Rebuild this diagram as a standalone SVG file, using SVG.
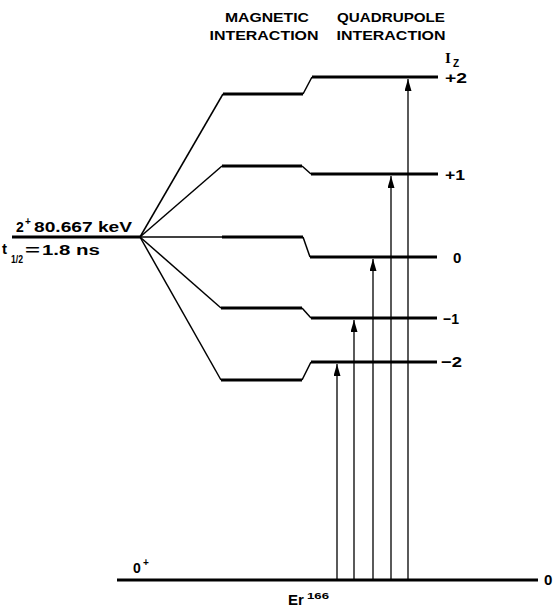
<svg xmlns="http://www.w3.org/2000/svg" width="554" height="607" viewBox="0 0 554 607">
<style>
.t{font-family:"Liberation Sans",Arial,sans-serif;font-weight:bold;fill:#000}
.s{font-family:"Liberation Serif","Times New Roman",serif;font-weight:bold;fill:#000}
.lvl{stroke:#000;stroke-width:3;fill:none;stroke-linecap:butt}
.fan{stroke:#000;stroke-width:1.5;fill:none}
.arr{stroke:#000;stroke-width:1.3;fill:none}
</style>
<defs>
<marker id="ah" viewBox="0 -3.5 12 7" refX="12" refY="0" markerWidth="12" markerHeight="7" markerUnits="userSpaceOnUse" orient="auto">
<path d="M0,-3.5 L12,0 L0,3.5 Z" fill="#000"/>
</marker>
</defs>
<rect width="554" height="607" fill="#fff"/>

<g id="headers">
<text class="t" x="267" y="22" font-size="13" text-anchor="middle" textLength="84" lengthAdjust="spacingAndGlyphs">MAGNETIC</text>
<text class="t" x="264" y="40" font-size="13" text-anchor="middle" textLength="109" lengthAdjust="spacingAndGlyphs">INTERACTION</text>
<text class="t" x="391" y="22" font-size="13" text-anchor="middle" textLength="108" lengthAdjust="spacingAndGlyphs">QUADRUPOLE</text>
<text class="t" x="391" y="40" font-size="13" text-anchor="middle" textLength="109" lengthAdjust="spacingAndGlyphs">INTERACTION</text>
<text class="s" x="445" y="63" font-size="15">I</text>
<text class="t" x="453" y="67" font-size="10">Z</text>
</g>

<g id="state-2plus">
<line class="lvl" x1="12" y1="237" x2="140" y2="237"/>
<text class="t" x="16" y="232" font-size="14">2</text>
<text class="t" x="25" y="225" font-size="10">+</text>
<text class="t" x="34" y="232" font-size="14" textLength="98" lengthAdjust="spacingAndGlyphs">80.667 keV</text>
<text class="t" x="2" y="254" font-size="15">t</text>
<text class="t" x="11" y="263" font-size="11" textLength="12" lengthAdjust="spacingAndGlyphs">1/2</text>
<text class="t" x="25" y="255" font-size="15" textLength="15" lengthAdjust="spacingAndGlyphs">=</text>
<text class="t" x="42" y="255" font-size="14" textLength="58" lengthAdjust="spacingAndGlyphs">1.8 ns</text>
</g>

<g id="connectors">
<path class="fan" d="M140,237 L223,94"/>
<path class="fan" d="M140,237 L222,166"/>
<path class="fan" d="M140,237 L222,237"/>
<path class="fan" d="M140,237 L221,308"/>
<path class="fan" d="M140,237 L221,380"/>
<path class="fan" d="M303,94 L312,77"/>
<path class="fan" d="M302,166 L311,174"/>
<path class="fan" d="M303,237 L310,257"/>
<path class="fan" d="M302,308 L311,318"/>
<path class="fan" d="M302,380 L311,362"/>
<line class="arr" x1="408" y1="580" x2="408" y2="79" marker-end="url(#ah)"/>
<line class="arr" x1="391" y1="580" x2="391" y2="176" marker-end="url(#ah)"/>
<line class="arr" x1="373" y1="580" x2="373" y2="259" marker-end="url(#ah)"/>
<line class="arr" x1="354" y1="580" x2="354" y2="320" marker-end="url(#ah)"/>
<line class="arr" x1="337" y1="580" x2="337" y2="364" marker-end="url(#ah)"/>
</g>

<g id="magnetic-levels">
<line class="lvl" x1="223" y1="94" x2="303" y2="94"/>
<line class="lvl" x1="222" y1="166" x2="302" y2="166"/>
<line class="lvl" x1="222" y1="237" x2="303" y2="237"/>
<line class="lvl" x1="221" y1="308" x2="302" y2="308"/>
<line class="lvl" x1="221" y1="380" x2="302" y2="380"/>
</g>

<g id="quadrupole-levels">
<line class="lvl" x1="312" y1="77" x2="438" y2="77"/>
<line class="lvl" x1="311" y1="174" x2="438" y2="174"/>
<line class="lvl" x1="310" y1="257" x2="437" y2="257"/>
<line class="lvl" x1="311" y1="318" x2="437" y2="318"/>
<line class="lvl" x1="311" y1="362" x2="437" y2="362"/>
<text class="t" x="445" y="83" font-size="15" textLength="22" lengthAdjust="spacingAndGlyphs">+2</text>
<text class="t" x="445" y="180" font-size="15" textLength="20" lengthAdjust="spacingAndGlyphs">+1</text>
<text class="t" x="453" y="263" font-size="15">0</text>
<text class="t" x="443" y="324" font-size="15" textLength="16" lengthAdjust="spacingAndGlyphs">−1</text>
<text class="t" x="441" y="367" font-size="15" textLength="21" lengthAdjust="spacingAndGlyphs">−2</text>
</g>

<g id="ground-state">
<line class="lvl" x1="117" y1="580" x2="538" y2="580"/>
<text class="t" x="133" y="573" font-size="14">0</text>
<text class="t" x="143" y="566" font-size="10">+</text>
<text class="t" x="544" y="585" font-size="15">0</text>
<text class="t" x="288" y="605" font-size="15">Er</text>
<text class="t" x="307" y="599" font-size="9" textLength="22" lengthAdjust="spacingAndGlyphs">166</text>
</g>
</svg>
